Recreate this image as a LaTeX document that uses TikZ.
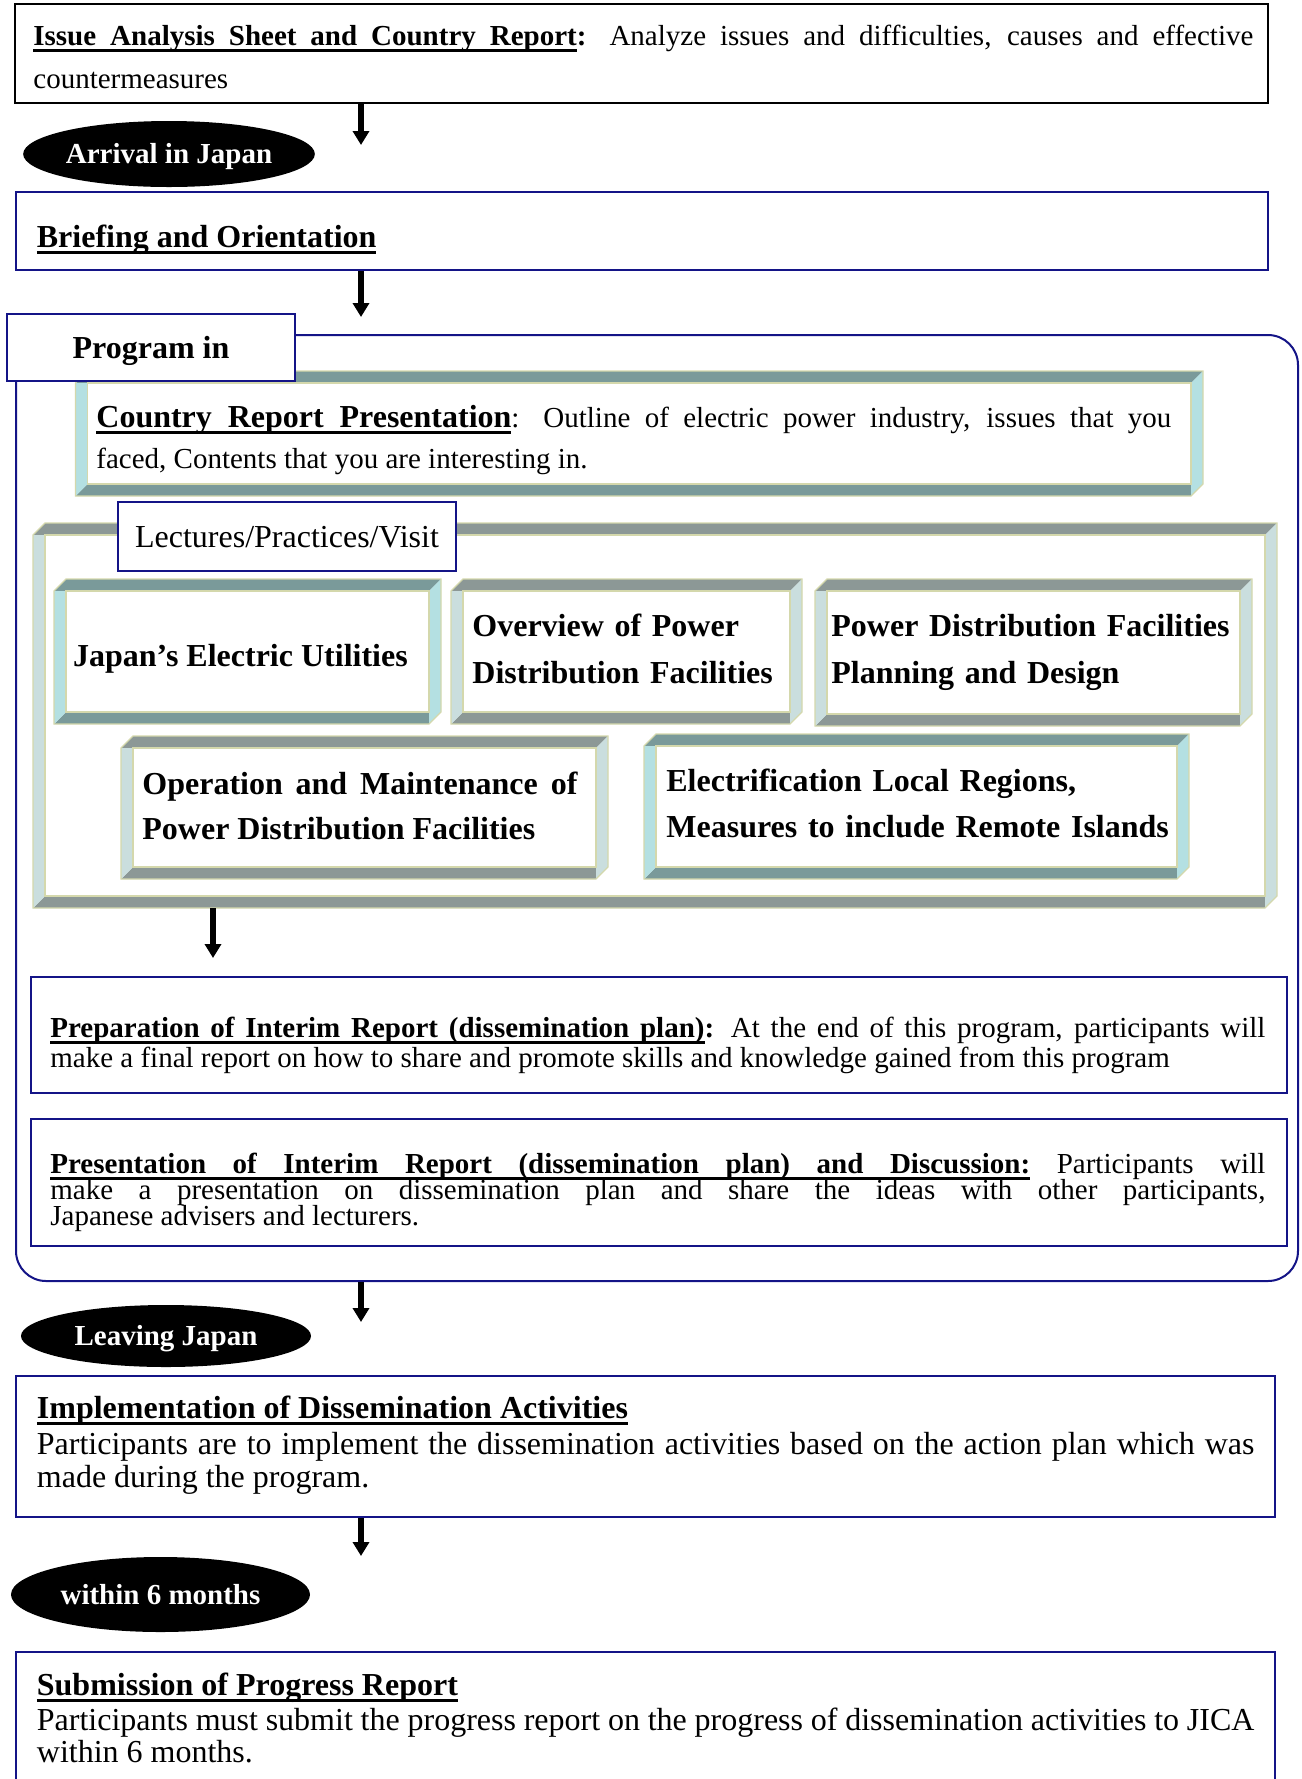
\documentclass[tikz,border=0pt]{standalone}
\usepackage{fontspec}
\setmainfont{Liberation Serif}
\usetikzlibrary{arrows.meta,shapes.geometric,fit}

% underlined words, with underlined stretchable spaces between them
\newcommand\ulw[1]{\setbox0\hbox{#1}\rlap{\vrule height -2.2pt depth 3.5pt width \wd0}\box0}
\newcommand\ulnsp{\leaders\hrule height -2.2pt depth 3.5pt\hskip\fontdimen2\font plus\fontdimen3\font minus\fontdimen4\font}
\def\ulnA#1 #2\ulnend{\ulw{#1}\ifx\relax#2\relax\else\ulnsp\ulnA#2\ulnend\fi}
\newcommand\uln[1]{\ulnA#1 \ulnend}

\definecolor{navyline}{RGB}{20,20,135}
\definecolor{bevteal}{RGB}{122,154,154}
\definecolor{bevgray}{RGB}{140,152,150}
\definecolor{sidecyan}{RGB}{180,224,226}
\definecolor{sidepale}{RGB}{202,222,222}
\definecolor{bevedge}{RGB}{212,216,172}

\tikzset{
  navybox/.style={draw=navyline, line width=1pt, fill=white, inner sep=0pt},
  blackbox/.style={draw=black, line width=1pt, fill=white, inner sep=0pt},
  bigarrow/.style={-{Triangle[length=7pt,width=8pt]}, line width=3pt},
  oval/.style={ellipse, fill=black, text=white, inner sep=0pt, text height=9.6pt, text depth=0pt,
    font=\bfseries\fontsize{14.5}{17}\selectfont},
  tag/.style={draw=navyline, line width=1pt, fill=white, inner sep=0pt, text height=10.6pt, text depth=0pt},
  para/.style={anchor=base west, inner sep=0pt, align=justify},
  lbl/.style={anchor=base west, inner sep=0pt},
  bevline/.style={draw=bevedge, line width=0.6pt}
}

% name, left, top, right, bottom, dark colour, side colour
\newcommand\bevelbox[7]{%
  \fill[#6] ({#2},{#3+12}) -- ({#2+12},{#3}) -- ({#4},{#3}) -- ({#4-12},{#3+12}) -- cycle;
  \fill[#6] ({#2},{#5}) -- ({#2+12},{#5-12}) -- ({#4-12},{#5-12}) -- ({#4-12},{#5}) -- cycle;
  \fill[#7] ({#2},{#3+12}) -- ({#2+12},{#3+12}) -- ({#2+12},{#5-12}) -- ({#2},{#5}) -- cycle;
  \fill[#7] ({#4-12},{#3+12}) -- ({#4},{#3}) -- ({#4},{#5-12}) -- ({#4-12},{#5}) -- cycle;
  \draw[bevline] ({#2},{#3+12}) -- ({#2+12},{#3}) -- ({#4},{#3}) -- ({#4},{#5-12}) -- ({#4-12},{#5}) -- ({#2},{#5}) -- cycle;
  \draw[bevline, fill=white] ({#2+12},{#3+12}) rectangle ({#4-12},{#5-12});
  \node[fit={({#2},{#3}) ({#4},{#5})}, inner sep=0pt] (#1) {};
}

\begin{document}
\begin{tikzpicture}[x=0.5pt, y=-0.5pt]
    \useasboundingbox (0,0) rectangle (1302,1779);
    \clip (0,0) rectangle (1302,1779);

    % before arrival
    \node[blackbox, fit={(15,4) (1268,103)}] (issue) {};
    \node[para, text width=610pt, font=\fontsize{14.5}{21.5}\selectfont] (issuetxt) at (33,45)
        {\textbf{\uln{Issue Analysis Sheet and Country Report}:} Analyze issues and difficulties, causes and effective \linebreak countermeasures};
    \coordinate (a1) at (361,145);
    \draw [bigarrow] (issue.south -| a1) -- (a1);
    \node[oval, minimum width=145pt, minimum height=33pt] (arrival) at (169,154) {Arrival in Japan};

    \node[navybox, fit={(16,192) (1268,270)}] (brief) {};
    \node[lbl, font=\bfseries\fontsize{16}{19}\selectfont] (brieftxt) at (36.5,247) {\uln{Briefing and Orientation}};
    \coordinate (a2) at (361,317);
    \draw [bigarrow] (brief.south -| a2) -- (a2);

    % program in Japan
    \node[navybox, rounded corners=15pt, fit={(16,335) (1298,1281)}] (prog) {};
    \bevelbox{country}{75.5}{371}{1203}{496}{bevteal}{sidecyan}
    \node[para, text width=537.5pt, font=\fontsize{14.5}{20.5}\selectfont] (countrytxt) at (96,427)
        {{\fontsize{16}{20.5}\selectfont\textbf{\uln{Country Report Presentation}}}: Outline of electric power industry, issues that you \linebreak faced, Contents that you are interesting in.};
    \node[tag, minimum width=143.75pt, minimum height=33.5pt, font=\bfseries\fontsize{16}{19}\selectfont] (progtab) at (151,347.5) {Program in};

    \bevelbox{lect}{33}{523}{1277}{908}{bevgray}{sidepale}
    \node[tag, minimum width=169pt, minimum height=34.5pt, font=\fontsize{16}{19}\selectfont] (lecttag) at (287,536.5) {Lectures/Practices/Visit};

    \bevelbox{japan}{54}{579}{441}{724}{bevteal}{sidecyan}
    \node[lbl, font=\bfseries\fontsize{16}{23.5}\selectfont] (japantxt) at (72.6,666) {Japan’s Electric Utilities};
    \bevelbox{overview}{451}{579}{802}{724}{bevgray}{sidepale}
    \node[para, align=left, text width=200pt, font=\bfseries\fontsize{16}{23.5}\selectfont] (overviewtxt) at (472,636)
        {Overview of Power\\Distribution Facilities};
    \bevelbox{planning}{815}{579}{1252}{726}{bevgray}{sidepale}
    \node[para, align=left, text width=260pt, font=\bfseries\fontsize{16}{23.5}\selectfont] (planningtxt) at (831,636)
        {Power Distribution Facilities\\Planning and Design};
    \bevelbox{operation}{121}{736}{608}{879}{bevgray}{sidepale}
    \node[para, text width=217.5pt, font=\bfseries\fontsize{16}{22.5}\selectfont] (operationtxt) at (142,794)
        {Operation and Maintenance of \linebreak Power Distribution Facilities};
    \bevelbox{electrif}{644}{734}{1189}{879}{bevteal}{sidecyan}
    \node[para, align=left, text width=300pt, font=\bfseries\fontsize{16}{23}\selectfont] (electriftxt) at (666,791)
        {Electrification Local Regions,\\Measures to include Remote Islands};

    \coordinate (a3) at (213,958);
    \draw [bigarrow] (lect.south -| a3) -- (a3);

    \node[navybox, fit={(31,977) (1287,1093)}] (prep) {};
    \node[para, text width=607.5pt, font=\fontsize{14.5}{15}\selectfont] (preptxt) at (50,1037)
        {\textbf{\uln{Preparation of Interim Report (dissemination plan)}:} At the end of this program, participants will \linebreak make a final report on how to share and promote skills and knowledge gained from this program};
    \node[navybox, fit={(31,1119) (1287,1246)}] (pres) {};
    \node[para, text width=607.5pt, font=\fontsize{14.5}{13.2}\selectfont] (prestxt) at (50,1173)
        {\lineskiplimit=-20pt\relax\textbf{\uln{Presentation of Interim Report (dissemination plan) and Discussion:}} Participants will \linebreak make a presentation on dissemination plan and share the ideas with other participants, \linebreak Japanese advisers and lecturers.\par};

    % after leaving
    \coordinate (a4) at (361,1322);
    \draw [bigarrow] (prog.south -| a4) -- (a4);
    \node[oval, minimum width=145pt, minimum height=31pt] (leaving) at (166,1336) {Leaving Japan};

    \node[navybox, fit={(16,1376) (1275,1517)}] (impl) {};
    \node[lbl, font=\bfseries\fontsize{16}{19}\selectfont] (impltitle) at (36.5,1418) {\uln{Implementation of Dissemination Activities}};
    \node[para, text width=608.75pt, font=\fontsize{16}{16.5}\selectfont] (impltxt) at (36.5,1454)
        {Participants are to implement the dissemination activities based on the action plan which was \linebreak made during the program.};
    \coordinate (a5) at (361,1556);
    \draw [bigarrow] (impl.south -| a5) -- (a5);
    \node[oval, minimum width=149.5pt, minimum height=37.5pt] (within) at (160.5,1594.5) {within 6 months};

    \node[navybox, fit={(16,1652) (1275,1800)}] (subm) {};
    \node[lbl, font=\bfseries\fontsize{16}{19}\selectfont] (submtitle) at (36.5,1695) {\uln{Submission of Progress Report}};
    \node[para, text width=608.75pt, font=\fontsize{16}{16}\selectfont] (submtxt) at (36.5,1730)
        {Participants must submit the progress report on the progress of dissemination activities to JICA \linebreak within 6 months.};
\end{tikzpicture}
\end{document}
